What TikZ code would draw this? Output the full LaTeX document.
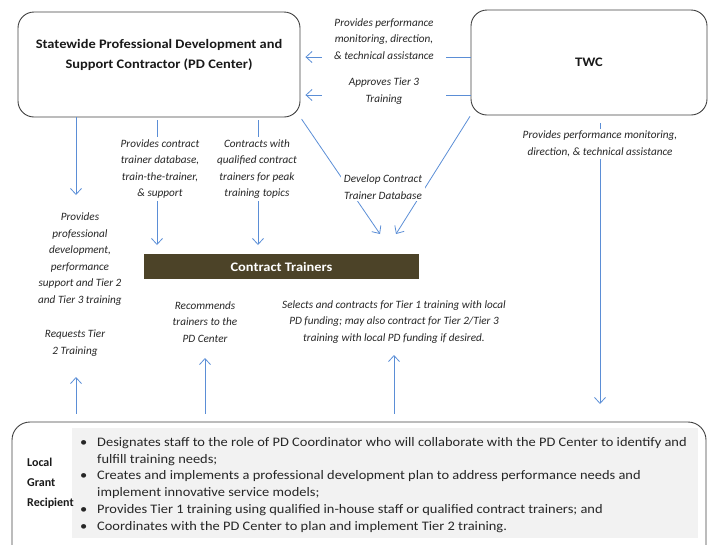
\documentclass[tikz,border=0pt]{standalone}
\usepackage{fontspec}
\setmainfont{Carlito}
\newfontfamily\widefont{Carlito}[FakeStretch=1.11]
\usetikzlibrary{arrows.meta}
\definecolor{arrowblue}{RGB}{91,142,214}
\definecolor{boxgray}{RGB}{64,64,64}
\definecolor{ctfill}{RGB}{76,67,40}
\definecolor{panelgray}{RGB}{242,242,242}
\begin{document}
\begin{tikzpicture}[x=1pt,y=-1pt,
  arr/.style={draw=arrowblue, line width=0.8pt, -{Straight Barb[length=6pt,width=11pt]}},
  bigbox/.style={draw=boxgray, line width=0.9pt, rounded corners=16pt},
  lbl/.style={font=\fontsize{11.2}{16.5}\selectfont\itshape, align=center, inner sep=2pt, text=black!85},
  wlbl/.style={lbl, fill=white, inner xsep=6pt},
  titlef/.style={font=\widefont\fontsize{13}{20}\selectfont\bfseries, align=center, text=black!90},
]
\clip (0,0) rectangle (712,544);
\useasboundingbox (0,0) rectangle (712,544);

% main boxes
\node[bigbox, minimum width=282pt, minimum height=105pt] (pd) at (159,64.5) {};
\node[titlef] (pdtitle) at (159,55) {Statewide Professional Development and\\Support Contractor (PD Center)};
\node[bigbox, minimum width=236pt, minimum height=105pt, titlef] (twc) at (589,62.5) {TWC};
\node[fill=ctfill, minimum width=275pt, minimum height=25pt, inner sep=0pt, text=white,
      font=\widefont\fontsize{13}{15}\selectfont\bfseries] (ct) at (281.5,266.5) {Contract Trainers};
\node[bigbox, rounded corners=18pt, minimum width=694pt, minimum height=150pt] (lgr) at (359,497) {};
\node[fill=panelgray, minimum width=626pt, minimum height=110pt, inner sep=0pt] (panel) at (385,483) {};

% coordinates
\coordinate (ya) at (0,57);
\coordinate (yb) at (0,95);
\coordinate (c1) at (76,195);
\coordinate (c2) at (157,245);
\coordinate (c3) at (258,245);
\coordinate (d1) at (380,234);
\coordinate (d2) at (396,234);
\coordinate (u1) at (76,377);
\coordinate (u2) at (205,358);
\coordinate (u3) at (394,355);
\coordinate (r1) at (600,404);

% connectors
\draw[arr, shorten >=5pt] (twc.west |- ya) -- (pd.east |- ya);
\draw[arr, shorten >=5pt] (twc.west |- yb) -- (pd.east |- yb);
\draw[arr] (pd.south -| c1) -- (c1);
\draw[arr, shorten <=3pt] (pd.south -| c2) -- (c2);
\draw[arr, shorten <=3pt] (pd.south -| c3) -- (c3);
\draw[arr, shorten <=2pt] (pd.south east) -- (d1);
\draw[arr, shorten <=1pt] (twc.south west) -- (d2);
\draw[arr, shorten <=8pt] (twc.south -| r1) -- (r1);
\draw[arr, shorten <=8pt] (lgr.north -| u1) -- (u1);
\draw[arr, shorten <=8pt] (lgr.north -| u2) -- (u2);
\draw[arr, shorten <=8pt] (lgr.north -| u3) -- (u3);

% labels
\node[wlbl, minimum width=124pt] (l1) at (384,39) {Provides performance\\monitoring, direction,\\\& technical assistance};
\node[wlbl, minimum width=124pt] (l2) at (384,91) {Approves Tier 3\\Training};
\node[wlbl, inner xsep=3pt] (l3) at (383,187) {Develop Contract\\Trainer Database};
\node[wlbl, inner xsep=2pt] (l4) at (160,169) {Provides contract\\trainer database,\\train-the-trainer,\\\& support};
\node[wlbl, inner xsep=2pt] (l5) at (257,169) {Contracts with\\qualified contract\\trainers for peak\\training topics};
\node[wlbl] (l10) at (600,144) {Provides performance monitoring,\\direction, \& technical assistance};
\node[lbl] (l6) at (80,259) {Provides\\professional\\development,\\performance\\support and Tier 2\\and Tier 3 training};
\node[lbl] (l7) at (75,343) {Requests Tier\\2 Training};
\node[lbl] (l8) at (205,322) {Recommends\\trainers to the\\PD Center};
\node[lbl] (l9) at (394,322) {Selects and contracts for Tier 1 training with local\\PD funding; may also contract for Tier 2/Tier 3\\training with local PD funding if desired.};

% bottom box content
\node[anchor=west, align=left, inner sep=0pt, font=\fontsize{12}{20}\selectfont\bfseries, text=black!90] (lgrt) at (27,483) {Local\\Grant\\Recipient};
\node[anchor=west, inner sep=0pt, font=\widefont\fontsize{13}{16.8}\selectfont, text=black!85] (bul) at (80,485)
{\begin{tabular}{@{}p{17pt}@{}l@{}}
\textbullet & Designates staff to the role of PD Coordinator who will collaborate with the PD Center to identify and\\
 & fulfill training needs;\\
\textbullet & Creates and implements a professional development plan to address performance needs and\\
 & implement innovative service models;\\
\textbullet & Provides Tier 1 training using qualified in-house staff or qualified contract trainers; and\\
\textbullet & Coordinates with the PD Center to plan and implement Tier 2 training.
\end{tabular}};
\end{tikzpicture}
\end{document}
